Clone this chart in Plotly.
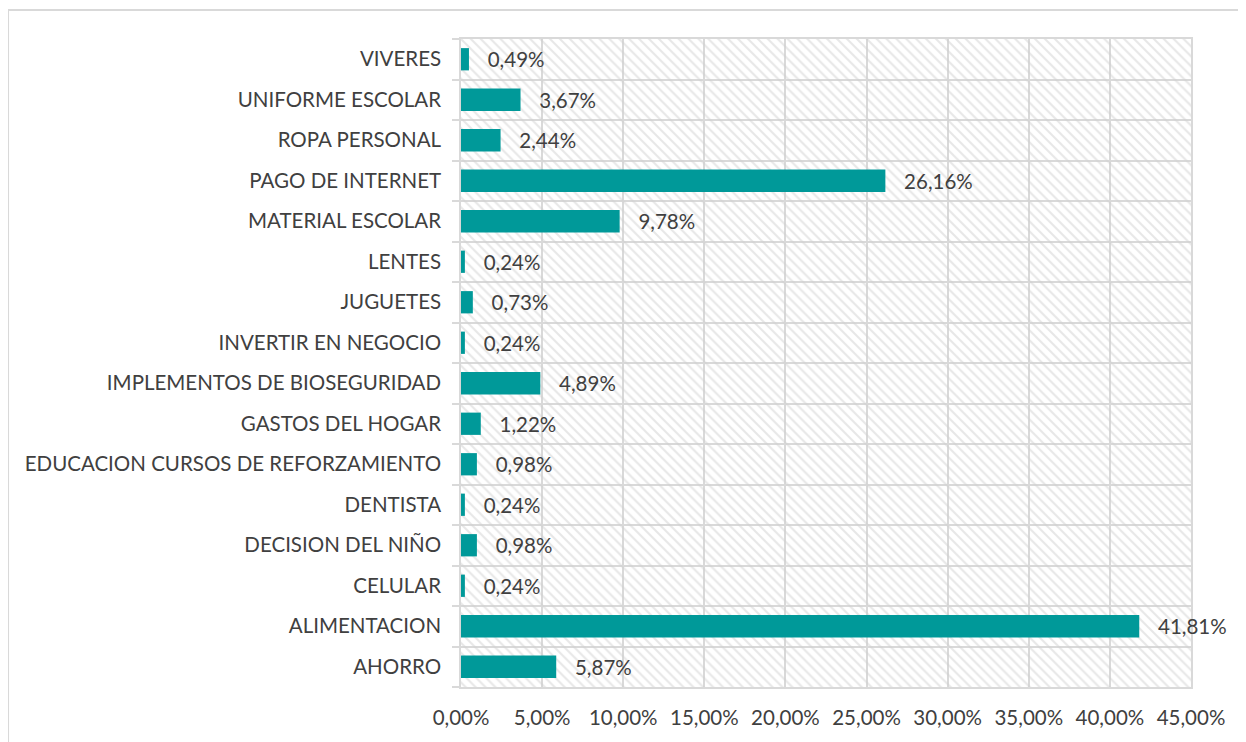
import plotly.graph_objects as go

categories = [
    "AHORRO", "ALIMENTACION", "CELULAR", "DECISION DEL NIÑO", "DENTISTA",
    "EDUCACION CURSOS DE REFORZAMIENTO", "GASTOS DEL HOGAR",
    "IMPLEMENTOS DE BIOSEGURIDAD", "INVERTIR EN NEGOCIO", "JUGUETES",
    "LENTES", "MATERIAL ESCOLAR", "PAGO DE INTERNET", "ROPA PERSONAL",
    "UNIFORME ESCOLAR", "VIVERES",
]
values = [5.87, 41.81, 0.24, 0.98, 0.24, 0.98, 1.22, 4.89, 0.24, 0.73,
          0.24, 9.78, 26.16, 2.44, 3.67, 0.49]
x_max = 45
x_dtick = 5

FONT = "Lato, 'Open Sans', sans-serif"
TXT = "#404040"
GRID = "#d9d9d9"
BAR = "#009999"
FS = 20.5

fig = go.Figure()

# hatched plot-area background
fig.add_trace(go.Bar(
    y=categories, x=[x_max] * len(categories), orientation="h", width=1,
    marker=dict(color="rgba(0,0,0,0)", line=dict(width=0),
                pattern=dict(shape="\\", fgcolor="#d0d0d0", bgcolor="rgba(0,0,0,0)",
                             size=7, solidity=0.3, fillmode="overlay")),
    hoverinfo="skip", showlegend=False,
))

fig.add_trace(go.Bar(
    y=categories, x=values, orientation="h", width=0.55,
    marker=dict(color=BAR, line=dict(width=0)),
    texttemplate="   %{x:.2f}%", textposition="outside", cliponaxis=False,
    constraintext="none",
    textfont=dict(family=FONT, size=FS, color=TXT),
    showlegend=False,
))

fig.update_layout(
    width=1238, height=734,
    margin=dict(l=453, r=55, t=31, b=55),
    paper_bgcolor="white", plot_bgcolor="white",
    barmode="overlay", separators=",.",
    font=dict(family=FONT, size=FS, color=TXT),
    xaxis=dict(range=[0, x_max], dtick=x_dtick, tick0=0, tickformat=".2f",
               ticksuffix="%", showgrid=True, gridcolor=GRID, gridwidth=1.6,
               zeroline=False, showline=True, linecolor=GRID, linewidth=1.6,
               mirror=True, ticks="", ticklabelstandoff=12, layer="below traces",
               tickfont=dict(family=FONT, size=FS, color=TXT)),
    yaxis=dict(type="category", categoryorder="array", categoryarray=categories,
               tickson="boundaries", ticks="outside", ticklen=7, tickcolor=GRID,
               tickwidth=1.6, layer="below traces",
               showgrid=True, gridcolor=GRID, gridwidth=1.6,
               showline=True, linecolor=GRID, linewidth=1.6, mirror=True,
               ticklabelstandoff=14,
               tickfont=dict(family=FONT, size=FS, color=TXT)),
    shapes=[dict(type="rect", xref="paper", yref="paper",
                 x0=-0.6205, x1=1.3, y0=-0.3, y1=1.0448,
                 line=dict(color=GRID, width=2), fillcolor="rgba(0,0,0,0)",
                 layer="below")],
)

fig.write_html("out.html")
